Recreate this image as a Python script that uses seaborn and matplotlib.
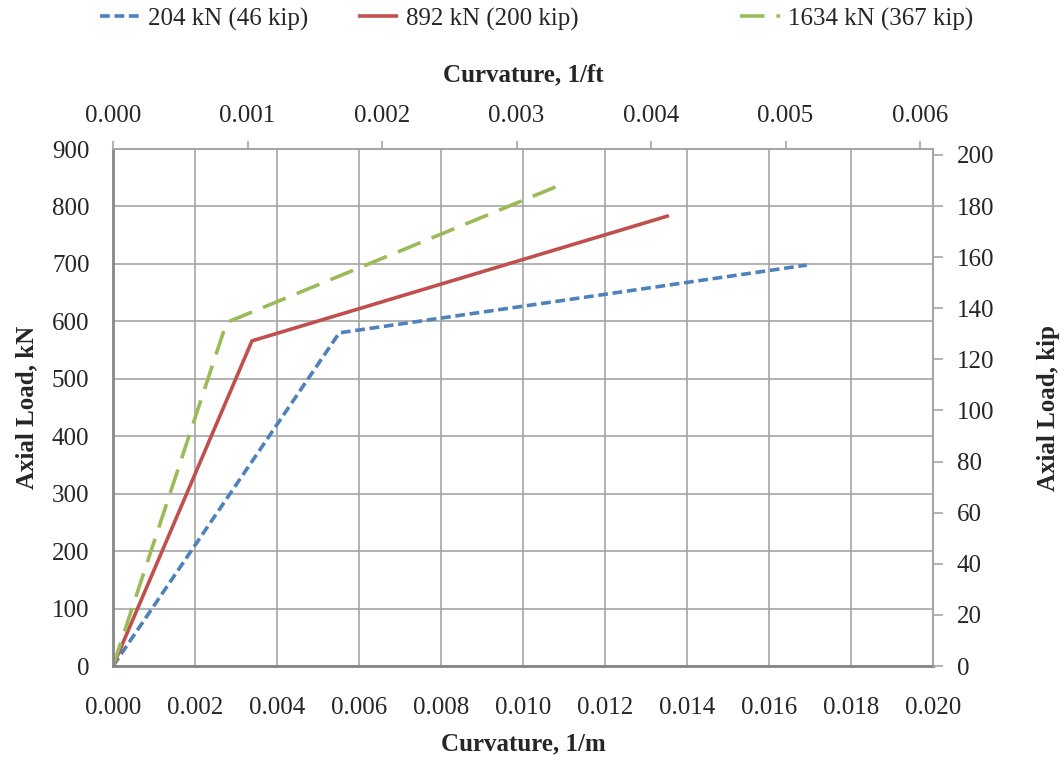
import matplotlib
matplotlib.use("Agg")
import matplotlib.pyplot as plt
import numpy as np
import pandas as pd
import seaborn as sns

# curvature (1/m) and axial load (kN)
curv_204 = [0.0, 0.00552, 0.01692]
load_204 = [0.0, 580, 698]
curv_892 = [0.0, 0.00339, 0.01356]
load_892 = [0.0, 566, 784]
curv_1634 = [0.0, 0.00277, 0.01100]
load_1634 = [0.0, 598, 840]
labels = ['204 kN (46 kip)', '892 kN (200 kip)', '1634 kN (367 kip)']
colors = ['#4F81BD', '#C0504D', '#9BBB59']

M_PER_FT = 3.28084
KN_PER_KIP = 4.44822

sns.set_theme(style="white")
plt.rcParams['font.family'] = ['Liberation Serif', 'DejaVu Serif']
FS = 18

fig = plt.figure(figsize=(10.64, 7.61), dpi=100)
ax = fig.add_axes([0.1062, 0.1248, 0.7707, 0.6794])

series = [(curv_204, load_204), (curv_892, load_892), (curv_1634, load_1634)]
dash_list = [(2.7, 1.3), None, (6.8, 3.3)]
handles = []
for (cx, cy), lab, col, d in zip(series, labels, colors, dash_list):
    df = pd.DataFrame({'curv': cx, 'load': cy})
    sns.lineplot(data=df, x='curv', y='load', ax=ax, color=col, linewidth=2.6,
                 sort=False, label=lab, legend=False)
    ln = ax.lines[-1]
    if d is not None:
        ln.set_dashes(d)
    ln.set_solid_capstyle('butt')
    handles.append(ln)

ax.set_xlim(0, 0.020)
ax.set_ylim(0, 900)
ax.set_xticks(np.arange(0, 0.0201, 0.002))
ax.set_yticks(np.arange(0, 901, 100))
ax.xaxis.set_major_formatter(matplotlib.ticker.FormatStrFormatter('%.3f'))
ax.grid(True, color='#A6A6A6', linewidth=1.2)
ax.tick_params(axis='x', length=0, pad=22, labelsize=FS)
ax.tick_params(axis='y', length=0, pad=17, labelsize=FS)
ax.set_xlabel('Curvature, 1/m', fontweight='bold', fontsize=FS, labelpad=10)
ax.set_ylabel('Axial Load, kN', fontweight='bold', fontsize=FS, labelpad=10)
for s in ['left', 'bottom']:
    ax.spines[s].set_color('#868686')
    ax.spines[s].set_linewidth(2.0)
for s in ['top', 'right']:
    ax.spines[s].set_color('#A6A6A6')
    ax.spines[s].set_linewidth(1.5)

axt = ax.twiny()
axt.set_xlim(0, 0.020 / M_PER_FT)
axt.set_xticks(np.arange(0, 0.00601, 0.001))
axt.xaxis.set_major_formatter(matplotlib.ticker.FormatStrFormatter('%.3f'))
axt.tick_params(axis='x', direction='out', length=6, width=1.2, color='#A6A6A6',
                pad=10, labelsize=FS)
axt.set_xlabel('Curvature, 1/ft', fontweight='bold', fontsize=FS, labelpad=17)

axr = ax.twinx()
axr.set_ylim(0, 900 / KN_PER_KIP)
axr.set_yticks(np.arange(0, 201, 20))
axr.tick_params(axis='y', direction='out', length=7, width=1.2, color='#A6A6A6',
                pad=10, labelsize=FS)
axr.set_ylabel('Axial Load, kip', fontweight='bold', fontsize=FS, labelpad=31)
for a in (axt, axr):
    for s in a.spines.values():
        s.set_visible(False)

# Excel spaces the legend entries unevenly, so place each entry on its own
for h, lab, x0 in zip(handles, labels, [100, 358, 740]):
    fig.legend(handles=[h], labels=[lab], loc='center left',
               bbox_to_anchor=(x0 / 1064, 0.975), frameon=False, fontsize=FS,
               handlelength=1.6, handletextpad=0.3, borderpad=0, borderaxespad=0)

fig.savefig('out.png', dpi=100)
